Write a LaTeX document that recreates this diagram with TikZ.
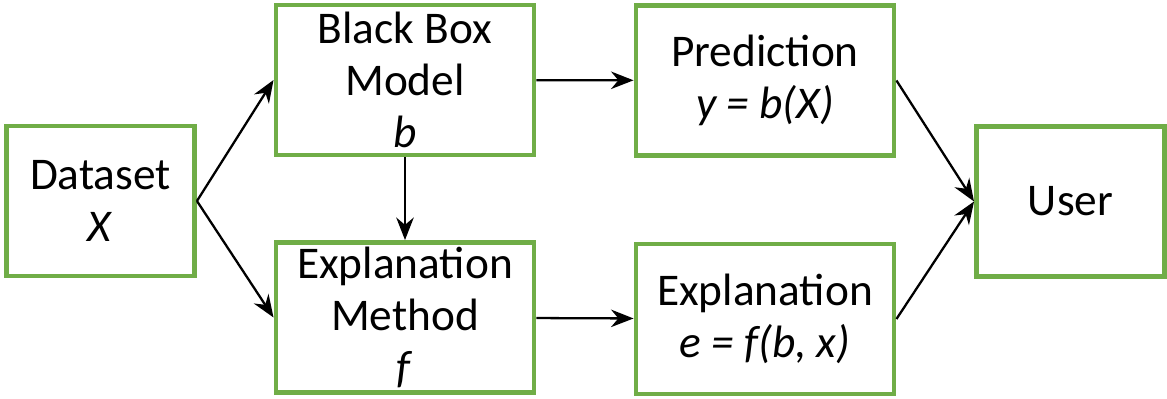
\documentclass[tikz,border=0pt]{standalone}
\usepackage{fontspec}
\setmainfont{Carlito}
\usepackage{tikz}
\usetikzlibrary{arrows.meta}
\definecolor{boxgreen}{RGB}{112,173,71}
\tikzset{
  stage/.style={
    rectangle,
    draw=boxgreen,
    fill=white,
    line width=2.8pt,
    minimum width=5.16cm,
    minimum height=3cm,
    inner sep=0pt,
    align=center,
    font=\fontsize{25.8}{29.6}\selectfont
  },
  endpoint/.style={
    stage,
    minimum width=3.76cm
  },
  flow/.style={
    -{Stealth[length=4.5mm,width=3.5mm]},
    line width=1.3pt,
    black
  }
}
\begin{document}
\begin{tikzpicture}[>=Stealth]
  \useasboundingbox (0,0) rectangle (23.34,7.96);

  % input and output ends
  \node[endpoint] (data) at (2.01,3.94) {Dataset\\\textit{X}};
  \node[endpoint] (user) at (21.41,3.93) {User};

  % model and explainer
  \node[stage] (model) at (8.10,6.36) {Black Box\\Model\\\textit{b}};
  \node[stage] (method) at (8.10,1.61) {Explanation\\Method\\\textit{f}};

  % results
  \node[stage] (pred) at (15.30,6.35) {Prediction\\\textit{y = b(X)}};
  \node[stage] (expl) at (15.30,1.58) {Explanation\\\textit{e = f(b, x)}};

  \draw[flow] (data.east) -- (model.west);
  \draw[flow] (data.east) -- (method.west);
  \draw[flow] (model) -- (method);
  \draw[flow] (model) -- (pred);
  \draw[flow] (method) -- (expl);
  \draw[flow] (pred.east) -- (user.west);
  \draw[flow] (expl.east) -- (user.west);
\end{tikzpicture}
\end{document}
